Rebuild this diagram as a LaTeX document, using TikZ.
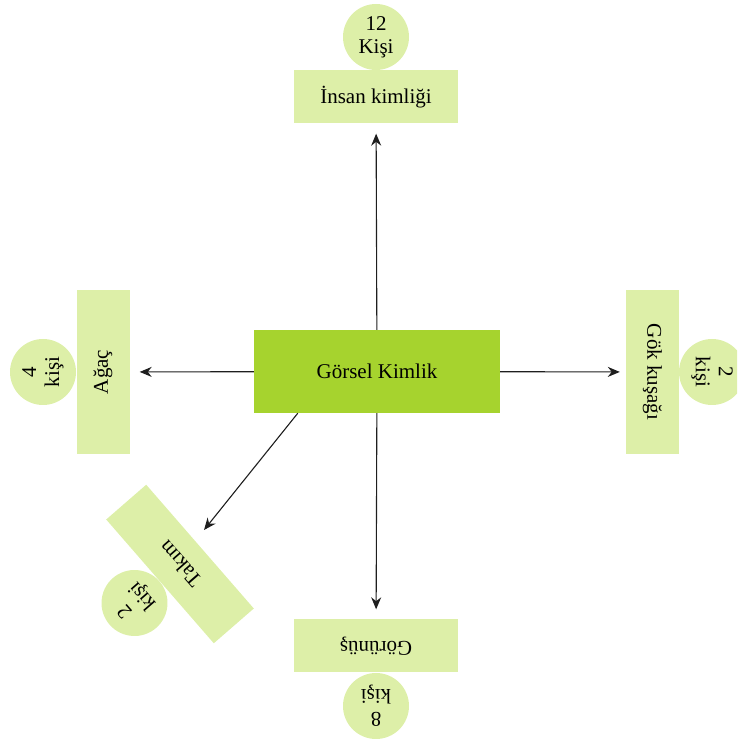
\documentclass[tikz,border=0pt]{standalone}
\usepackage{fontspec}
\setmainfont{Liberation Serif}
\usetikzlibrary{arrows.meta}

\definecolor{koyuyesil}{RGB}{166,211,46}
\definecolor{acikyesil}{RGB}{221,239,168}
\definecolor{okrengi}{RGB}{30,30,30}
\newcommand{\metin}{\fontsize{21}{23}\selectfont}

\tikzset{
    ana/.style={fill=koyuyesil, minimum width=246pt, minimum height=83pt, inner sep=0pt, font=\metin},
    kutu/.style={fill=acikyesil, minimum width=164pt, minimum height=53pt, inner sep=0pt, font=\metin},
    daire/.style={circle, fill=acikyesil, minimum size=66pt, inner sep=0pt, align=center, font=\metin},
    ok/.style={draw=okrengi, line width=1.1pt, -{Stealth[length=12pt, width=10pt]}, shorten >=10pt}
}

\begin{document}
\begin{tikzpicture}[x=1pt, y=1pt]
        \clip (0, 0) rectangle (737, 742);
        \useasboundingbox (0, 0) rectangle (737, 742);

        \node[ana] (gorsel) at (377, 370.5) {Görsel Kimlik};

        % ust
        \node[kutu] (insan) at (376, 645) {İnsan kimliği};
        \node[daire] (insankisi) at (376, 705) {12\\Kişi};

        % sol
        \node[kutu, rotate=90] (agac) at (103, 370) {Ağaç};
        \node[daire, rotate=90] (agackisi) at (43, 370) {4\\kişi};

        % sag
        \node[kutu, rotate=-90] (gok) at (652.5, 370) {Gök kuşağı};
        \node[daire, rotate=-90] (gokkisi) at (712, 370) {2\\kişi};

        % alt
        \node[kutu, rotate=180] (gorunus) at (376, 96) {Görünüş};
        \node[daire, rotate=180] (gorunuskisi) at (376, 36) {8\\kişi};

        % capraz
        \node[kutu, rotate=131] (takim) at (180, 178) {Takım};
        \node[daire, rotate=131] (takimkisi) at (134.5, 139) {2\\kişi};
        \coordinate (takimucu) at (204, 212);

        \draw[ok] (gorsel) -- (insan);
        \draw[ok] (gorsel) -- (agac);
        \draw[ok, shorten >=6pt] (gorsel) -- (gok);
        \draw[ok] (gorsel) -- (gorunus);
        \draw[ok, shorten >=0pt] ([xshift=44pt]gorsel.south west) -- (takimucu);

    \end{tikzpicture}
\end{document}
